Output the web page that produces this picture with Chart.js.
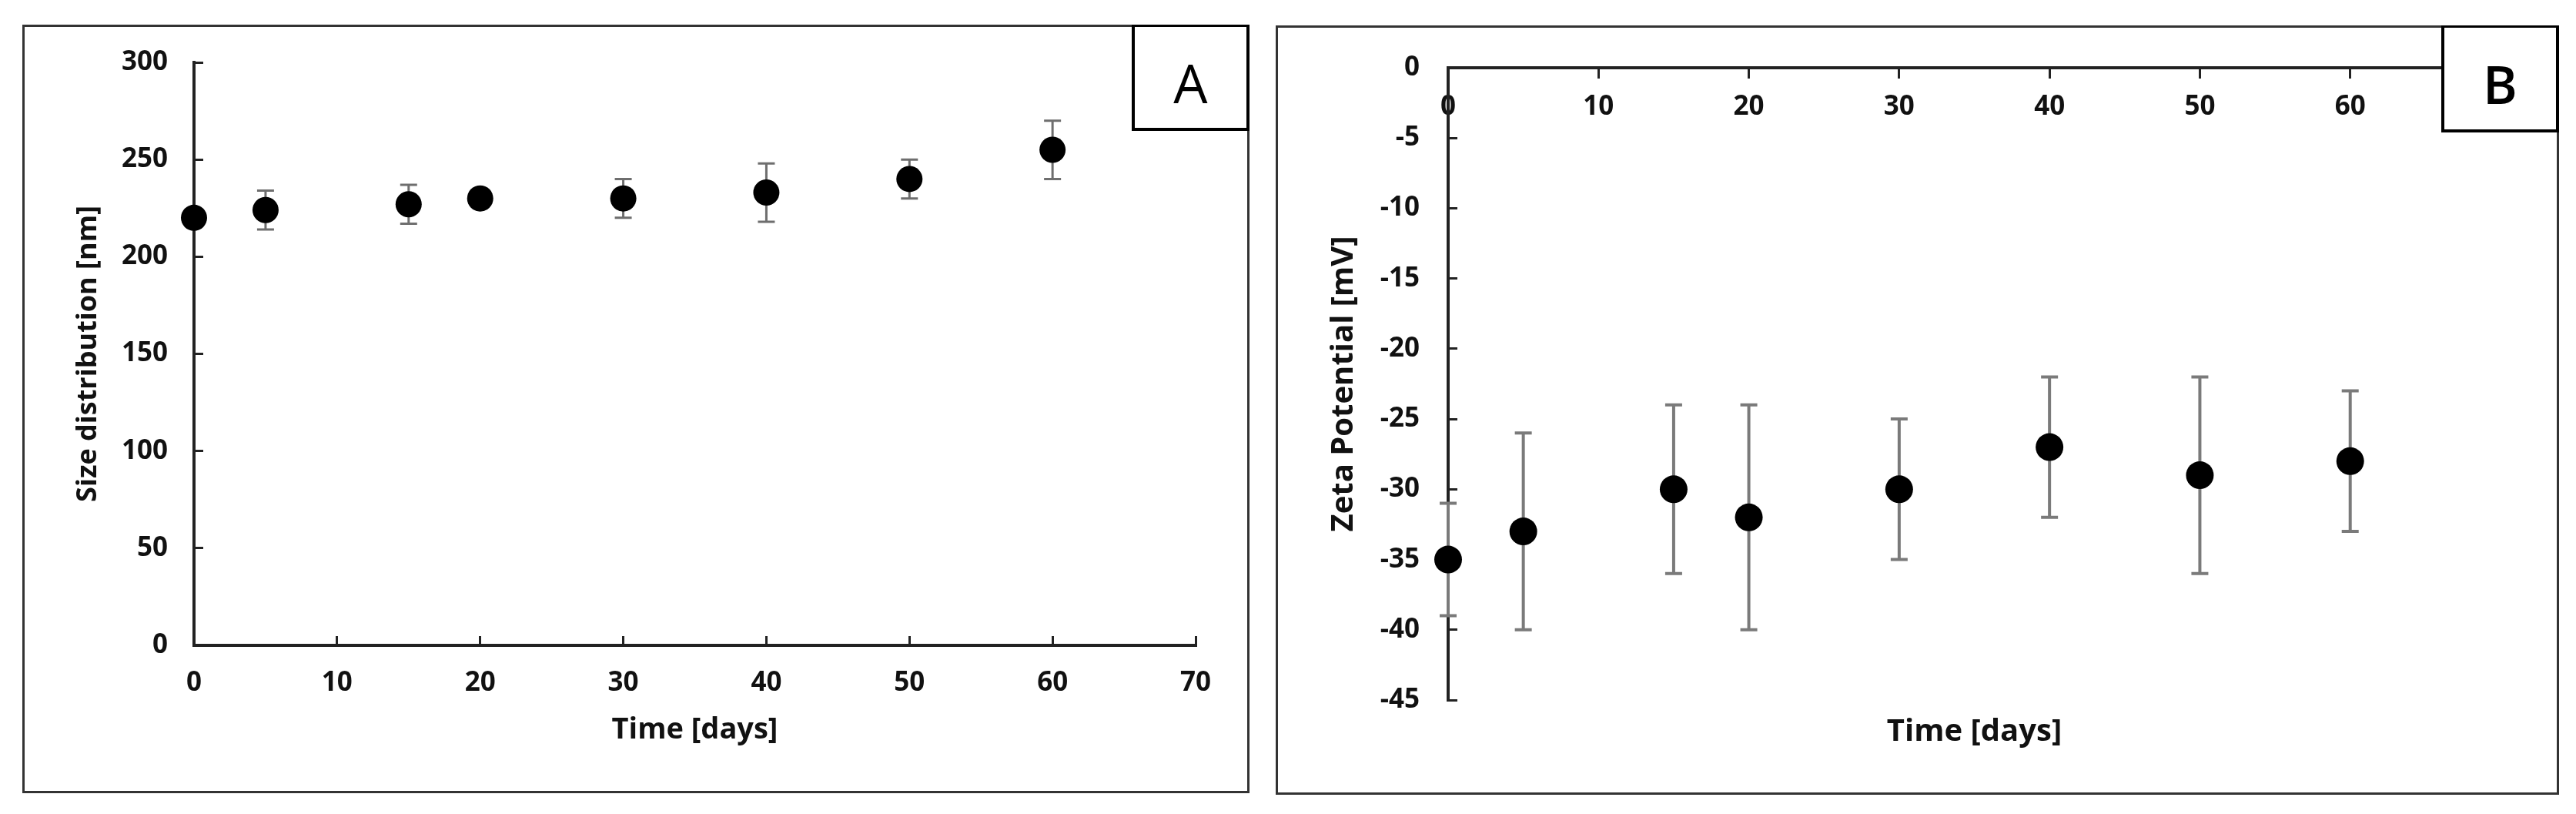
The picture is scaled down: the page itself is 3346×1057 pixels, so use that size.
<!DOCTYPE html>
<html lang="en">
<head>
<meta charset="UTF-8">
<title>Size distribution and zeta potential</title>
<style>
  * { box-sizing: border-box; margin: 0; padding: 0; }
  html, body { width: 3346px; height: 1057px; background: #fff; overflow: hidden; }
  canvas { position: absolute; top: 0; }
  #chartA { left: 0; }
  #chartB { left: 1640px; }
  .panel { position: absolute; border: 3px solid #333; }
  .tag {
    position: absolute; background: #fff; border: 4px solid #000; border-top-width: 3px;
    font-family: 'Open Sans', sans-serif; color: #000;
    display: flex; align-items: center; justify-content: center; padding-top: 12px;
  }
</style>
</head>
<body>
<canvas id="chartA" width="1640" height="1057"></canvas>
<canvas id="chartB" width="1706" height="1057"></canvas>
<div class="panel" style="left:29px;top:32px;width:1594px;height:998px"></div>
<div class="panel" style="left:1657px;top:33px;width:1667px;height:999px"></div>
<div class="tag" style="left:1470px;top:32px;width:153px;height:138px;font-size:70px">A</div>
<div class="tag" style="left:3171px;top:33px;width:153px;height:139px;font-size:68px;font-weight:600">B</div>

<script src="https://cdn.jsdelivr.net/npm/chart.js@4.4.1/dist/chart.umd.min.js"></script>
<script>
  // panel A - size distribution
  const daysA = [0, 5, 15, 20, 30, 40, 50, 60];
  const sizeNm = [220, 224, 227, 230, 230, 233, 240, 255];
  const sizeErr = [0, 10, 10, 0, 10, 15, 10, 15];
  const xTicksA = [0, 10, 20, 30, 40, 50, 60, 70];
  const yTicksA = [0, 50, 100, 150, 200, 250, 300];

  // panel B - zeta potential
  const daysB = [0, 5, 15, 20, 30, 40, 50, 60];
  const zetaMv = [-35, -33, -30, -32, -30, -27, -29, -28];
  const zetaErr = [4, 7, 6, 8, 5, 5, 7, 5];
  const xTicksB = [0, 10, 20, 30, 40, 50, 60, 70];
  const yTicksB = [0, -5, -10, -15, -20, -25, -30, -35, -40, -45];

  Chart.defaults.font.family = "'Open Sans', sans-serif";
  Chart.defaults.color = '#111';

  // vertical error bars with caps, drawn under the markers
  const errorBars = {
    id: 'errorBars',
    beforeDatasetsDraw(chart, args, opts) {
      const { ctx, scales: { x, y } } = chart;
      chart.data.datasets.forEach(ds => {
        if (!ds.errors) return;
        ctx.save();
        ctx.strokeStyle = opts.color;
        ctx.lineWidth = opts.width;
        ds.data.forEach((p, i) => {
          const e = ds.errors[i];
          if (!e) return;
          const px = x.getPixelForValue(p.x);
          const top = y.getPixelForValue(p.y + e);
          const bot = y.getPixelForValue(p.y - e);
          ctx.beginPath();
          ctx.moveTo(px, top); ctx.lineTo(px, bot);
          ctx.moveTo(px - opts.cap, top); ctx.lineTo(px + opts.cap, top);
          ctx.moveTo(px - opts.cap, bot); ctx.lineTo(px + opts.cap, bot);
          ctx.stroke();
        });
        ctx.restore();
      });
    }
  };

  function fixedTicks(list) {
    return scale => { scale.ticks = list.map(v => ({ value: v })); };
  }

  new Chart(document.getElementById('chartA'), {
    type: 'scatter',
    data: {
      datasets: [{
        data: daysA.map((d, i) => ({ x: d, y: sizeNm[i] })),
        errors: sizeErr,
        backgroundColor: '#000',
        borderWidth: 0,
        pointRadius: 17,
        pointHoverRadius: 17,
        clip: false
      }]
    },
    options: {
      responsive: false,
      animation: false,
      devicePixelRatio: 1,
      layout: { padding: { left: 0, top: 81, right: 87, bottom: 0 } },
      plugins: {
        legend: { display: false },
        tooltip: { enabled: false },
        errorBars: { color: '#6e6e6e', width: 3, cap: 11 }
      },
      scales: {
        x: {
          type: 'linear', position: 'bottom', min: 0, max: 70,
          afterBuildTicks: fixedTicks(xTicksA),
          afterFit: s => { s.height = 219; },
          grid: { drawOnChartArea: false, drawTicks: true, tickLength: -12, color: '#222', lineWidth: 3 },
          border: { color: '#222', width: 4 },
          ticks: { padding: 40, font: { size: 35, weight: 'bold' } },
          title: { display: true, text: 'Time [days]', font: { size: 38, weight: 'bold' }, padding: { bottom: 86 } }
        },
        y: {
          type: 'linear', position: 'left', min: 0, max: 300,
          afterBuildTicks: fixedTicks(yTicksA),
          afterFit: s => { s.width = 252; },
          grid: { drawOnChartArea: false, drawTicks: true, tickLength: -12, color: '#222', lineWidth: 3 },
          border: { color: '#222', width: 4 },
          ticks: { padding: 46, font: { size: 35, weight: 'bold' } },
          title: { display: true, text: 'Size distribution [nm]', font: { size: 36, weight: 'bold' }, padding: { top: 93 } }
        }
      }
    },
    plugins: [errorBars]
  });

  new Chart(document.getElementById('chartB'), {
    type: 'scatter',
    data: {
      datasets: [{
        data: daysB.map((d, i) => ({ x: d, y: zetaMv[i] })),
        errors: zetaErr,
        backgroundColor: '#000',
        borderWidth: 0,
        pointRadius: 18,
        pointHoverRadius: 18,
        clip: false
      }]
    },
    options: {
      responsive: false,
      animation: false,
      devicePixelRatio: 1,
      layout: { padding: { left: 0, top: 88, right: 98, bottom: 0 } },
      plugins: {
        legend: { display: false },
        tooltip: { enabled: false },
        errorBars: { color: '#7a7a7a', width: 4, cap: 11 }
      },
      scales: {
        x: {
          type: 'linear', position: { y: 0 }, min: 0, max: 70,
          afterBuildTicks: fixedTicks(xTicksB),
          grid: { drawOnChartArea: false, drawTicks: true, tickLength: 12, color: '#222', lineWidth: 3 },
          border: { color: '#222', width: 4 },
          ticks: { padding: 18, font: { size: 35, weight: 'bold' } }
        },
        x2: {
          type: 'linear', axis: 'x', position: 'bottom', min: 0, max: 70,
          afterFit: s => { s.height = 148; },
          grid: { display: false },
          border: { display: false },
          ticks: { display: false },
          title: { display: true, text: 'Time [days]', font: { size: 40, weight: 'bold' }, padding: { bottom: 82 } }
        },
        y: {
          type: 'linear', position: 'left', min: -45, max: 0,
          afterBuildTicks: fixedTicks(yTicksB),
          afterFit: s => { s.width = 241; },
          grid: { drawOnChartArea: false, drawTicks: true, tickLength: -12, color: '#222', lineWidth: 3 },
          border: { color: '#222', width: 4 },
          ticks: { padding: 49, font: { size: 35, weight: 'bold' } },
          title: { display: true, text: 'Zeta Potential [mV]', font: { size: 40, weight: 'bold' }, padding: { top: 82 } }
        }
      }
    },
    plugins: [errorBars]
  });
</script>
</body>
</html>
